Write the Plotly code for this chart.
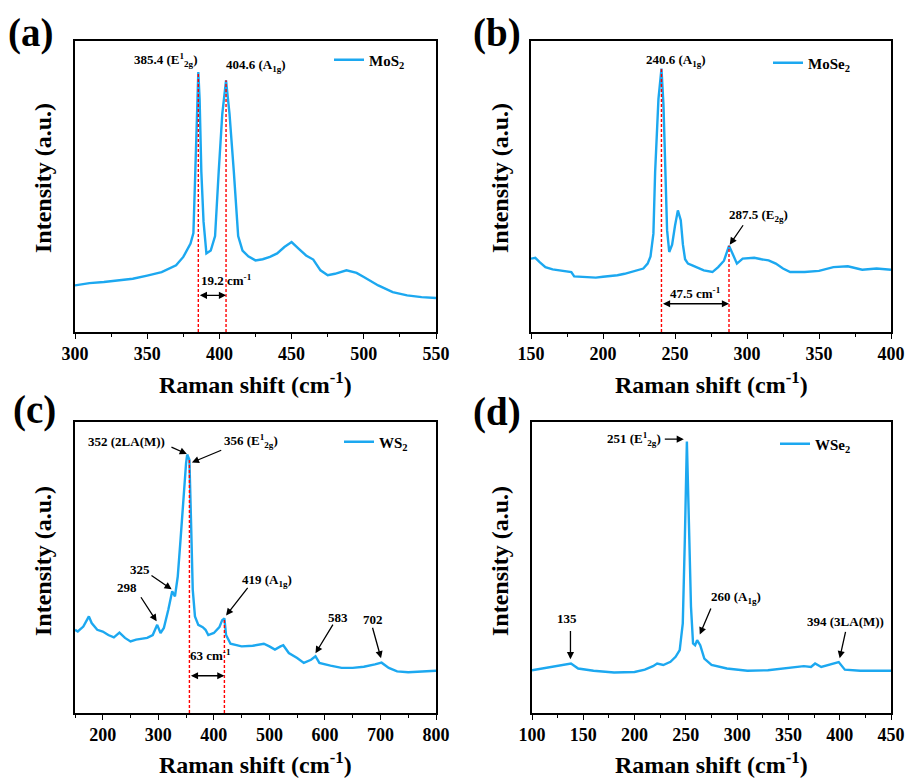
import numpy as np
import plotly.graph_objects as go

# ---------------- data (arbitrary intensity units 0-100) -------------
a_x = [300, 310, 320, 330, 340, 350, 360, 370, 375, 380, 382, 383.3, 384.5, 385.4, 386.3, 387.5, 389, 391,
       394, 397, 399.5, 402, 404.6, 407, 410, 413, 416, 420, 425, 430, 435, 440, 445, 450, 455, 460, 465,
       470, 475, 480, 488, 495, 500, 510, 520, 530, 540, 550]
a_y = [16.0, 16.8, 17.2, 17.8, 18.3, 19.4, 20.6, 22.9, 25.8, 30.4, 34.0, 55.0, 80.0, 89.3, 80.0, 55.0, 38.0, 27.0,
       28.0, 33.0, 55.0, 75.0, 86.5, 75.0, 55.0, 33.0, 28.0, 26.0, 24.6, 25.0, 25.8, 27.0, 29.2, 30.9, 28.6, 26.3, 24.9,
       21.2, 19.5, 20.0, 21.2, 20.3, 18.9, 16.0, 13.7, 12.6, 12.0, 11.7]

b_x = [150, 153, 156, 160, 165, 170, 175, 178, 180, 185, 190, 195, 200, 205, 210, 215, 220, 225, 228, 231,
       233, 235, 236.2, 238.5, 240.6, 242, 243.3, 244.5, 246, 248, 250, 252, 254, 255.5, 257, 259, 262, 265,
       270, 276, 280, 284, 287.5, 290, 293, 297, 305, 310, 315, 320, 325, 330, 340, 350, 360, 370, 380, 390, 400]
b_y = [25.2, 25.5, 24.0, 22.3, 21.5, 21.2, 21.0, 20.6, 19.1, 19.0, 18.8, 18.7, 19.0, 19.2, 19.5, 20.0, 20.6, 21.2,
       21.8, 23.5, 26.0, 33.8, 55.0, 80.0, 90.5, 78.0, 55.0, 35.0, 27.5, 30.0, 36.5, 41.8, 38.4, 30.0, 25.0, 23.5,
       22.9, 22.3, 21.2, 20.6, 22.3, 24.5, 29.6, 26.9, 23.5, 25.2, 25.5, 25.0, 24.6, 23.5, 21.8, 20.6, 20.6, 21.0,
       22.3, 22.6, 21.4, 21.8, 21.4]

c_x = [150, 155, 165, 175, 180, 190, 200, 210, 220, 230, 240, 250, 260, 270, 280, 290, 298, 304, 310, 318,
       325, 330, 335, 340, 345, 350, 352, 356, 359, 362, 366, 372, 380, 385, 390, 400, 410, 415, 419, 422,
       430, 450, 470, 490, 500, 510, 520, 525, 535, 550, 562, 575, 583, 590, 610, 630, 650, 670, 690, 702,
       715, 730, 750, 770, 790, 800]
c_y = [28.6, 28.0, 29.7, 33.2, 30.9, 28.6, 28.0, 26.8, 26.0, 27.6, 25.8, 24.6, 25.2, 25.4, 25.8, 26.8, 30.3, 27.5,
       29.2, 35.5, 41.8, 40.1, 46.9, 59.5, 74.5, 85.9, 88.8, 87.0, 65.3, 42.4, 33.2, 30.3, 29.5, 28.6, 26.8, 27.5,
       29.5, 31.9, 32.5, 26.8, 23.8, 22.9, 23.1, 23.8, 22.9, 21.8, 22.9, 23.3, 20.6, 18.9, 17.2, 18.3, 19.5, 17.2,
       16.3, 15.5, 15.5, 15.9, 16.7, 17.3, 15.5, 14.3, 14.0, 14.3, 14.5, 14.5]

d_x = [100, 110, 120, 130, 138, 145, 160, 180, 200, 210, 218, 222, 228, 235, 240, 244, 247, 249, 251, 253,
       255, 257, 259, 261, 264, 268, 275, 290, 310, 330, 350, 365, 372, 376, 382, 390, 399, 405, 420, 450]
d_y = [14.7, 15.3, 16.1, 16.5, 17.0, 15.3, 14.5, 13.9, 14.1, 14.9, 16.1, 17.0, 16.5, 17.6, 19.3, 21.6, 30.8, 59.5,
       93.3, 65.2, 36.5, 23.9, 23.3, 25.0, 23.3, 18.7, 16.5, 15.3, 14.5, 14.7, 15.5, 16.1, 15.8, 17.0, 15.8, 16.7,
       17.5, 14.9, 14.5, 14.5]

# peak positions marked with red dashed lines
a_marks = [385.4, 404.6]
b_marks = [240.6, 287.5]
c_marks = [356, 419]

# separation labels
a_sep = "19.2 cm<sup>-1</sup>"
b_sep = "47.5 cm<sup>-1</sup>"
c_sep = "63 cm<sup>-1</sup>"

names = ["<b>MoS<sub>2</sub></b>", "<b>MoSe<sub>2</sub></b>", "<b>WS<sub>2</sub></b>", "<b>WSe<sub>2</sub></b>"]
panel_tags = ["(a)", "(b)", "(c)", "(d)"]
x_title = "Raman shift (cm<sup>-1</sup>)"
y_title = "Intensity (a.u.)"

# ---------------- styling ----------------
W, H = 905, 781
BLUE = "#1CA8F0"
FONT = "Liberation Serif"


def px_x(v):
    return v / W


def px_y(v):
    return 1 - v / H


panels = [
    dict(x=a_x, y=a_y, xr=[300, 550], dt=50, mdt=25, box=(75, 436, 41, 332), leg=(329, 60), tag=(30, 33),
         xt=(255, 383), yt=(43, 178)),
    dict(x=b_x, y=b_y, xr=[150, 400], dt=50, mdt=25, box=(531, 891, 41, 332), leg=(768, 63), tag=(497, 33),
         xt=(711, 383), yt=(500, 178)),
    dict(x=c_x, y=c_y, xr=[150, 800], dt=100, mdt=50, box=(75, 436, 422, 713), leg=(339, 442), tag=(34, 410),
         xt=(255, 763), yt=(43, 561)),
    dict(x=d_x, y=d_y, xr=[100, 450], dt=50, mdt=25, box=(532, 891, 422, 713), leg=(775, 444), tag=(497, 412),
         xt=(711, 763), yt=(500, 561)),
]

fig = go.Figure()
layout = dict(
    width=W, height=H,
    margin=dict(l=0, r=0, t=0, b=0),
    paper_bgcolor="white", plot_bgcolor="white",
    showlegend=True,
    font=dict(family=FONT, color="black"),
)
annotations = []
shapes = []
TITLE_FONT = dict(family=FONT, size=24, color="black")

for i, p in enumerate(panels):
    n = "" if i == 0 else str(i + 1)
    xa, ya = "x" + n, "y" + n
    legname = "legend" + n
    fig.add_trace(go.Scatter(
        x=p["x"], y=p["y"], mode="lines", name=names[i],
        line=dict(color=BLUE, width=2.4),
        xaxis=xa, yaxis=ya, legend=legname,
    ))
    l, r, t, b = p["box"]
    layout["xaxis" + n] = dict(
        domain=[px_x(l), px_x(r)], anchor=ya, range=p["xr"],
        showline=True, linecolor="black", linewidth=1.6, mirror=True,
        ticks="outside", ticklen=5, tickwidth=1.4, tickcolor="black",
        tick0=0, dtick=p["dt"], ticklabeloverflow="allow",
        minor=dict(ticks="outside", ticklen=3, tickwidth=1.2, tickcolor="black", dtick=p["mdt"], tick0=0),
        showgrid=False, zeroline=False,
        tickfont=dict(family=FONT, size=18, color="black", weight="bold"),
        automargin=False,
    )
    layout["yaxis" + n] = dict(
        domain=[px_y(b), px_y(t)], anchor=xa, range=[0, 100],
        showline=True, linecolor="black", linewidth=1.6, mirror=True,
        ticks="", showticklabels=False, showgrid=False, zeroline=False,
        automargin=False,
    )
    lx, ly = p["leg"]
    layout[legname] = dict(
        x=px_x(lx), y=px_y(ly), xanchor="left", yanchor="middle",
        bgcolor="rgba(0,0,0,0)", borderwidth=0, itemwidth=30,
        font=dict(family=FONT, size=15, color="black"),
    )
    tx, ty = p["tag"]
    annotations.append(dict(
        x=px_x(tx), y=px_y(ty), xref="paper", yref="paper", text="<b>" + panel_tags[i] + "</b>",
        showarrow=False, xanchor="center", yanchor="middle",
        font=dict(family=FONT, size=39, color="black"),
    ))
    # axis titles
    xtx, xty = p["xt"]
    annotations.append(dict(
        x=px_x(xtx), y=px_y(xty), xref="paper", yref="paper", text="<b>" + x_title + "</b>",
        showarrow=False, xanchor="center", yanchor="middle", font=TITLE_FONT,
    ))
    ytx, yty = p["yt"]
    annotations.append(dict(
        x=px_x(ytx), y=px_y(yty), xref="paper", yref="paper", text="<b>" + y_title + "</b>",
        showarrow=False, xanchor="center", yanchor="middle", textangle=-90, font=TITLE_FONT,
    ))

LABEL_FONT = dict(family=FONT, size=13, color="black")


def text_ann(xa, ya, x, y, text):
    annotations.append(dict(x=x, y=y, xref=xa, yref=ya, text="<b>" + text + "</b>", showarrow=False,
                            xanchor="center", yanchor="middle", font=LABEL_FONT))


def arrow_ann(xa, ya, x0, y0, x1, y1, both=False):
    annotations.append(dict(x=x1, y=y1, ax=x0, ay=y0, xref=xa, yref=ya, axref=xa, ayref=ya,
                            text="", showarrow=True, arrowhead=2, arrowsize=1.1, arrowwidth=1.3,
                            arrowcolor="black", arrowside="end+start" if both else "end",
                            startarrowhead=2, startarrowsize=1.1, standoff=0, startstandoff=0))


def dashed_marks(xa, ya, xs, ys, marks):
    for m in marks:
        h = float(np.interp(m, xs, ys))
        shapes.append(dict(type="line", xref=xa, yref=ya, x0=m, x1=m, y0=0, y1=h,
                           line=dict(color="#FF0000", width=1.4, dash="3px,2px")))


# ---- panel (a)
dashed_marks("x", "y", a_x, a_y, a_marks)
arrow_ann("x", "y", a_marks[0], 12.6, a_marks[1], 12.6, both=True)
text_ann("x", "y", 405, 17.8, a_sep)
text_ann("x", "y", 363, 93.4, "385.4 (E<sup>1</sup><sub>2g</sub>)")
text_ann("x", "y", 425, 91.6, "404.6 (A<sub>1g</sub>)")

# ---- panel (b)
dashed_marks("x2", "y2", b_x, b_y, b_marks)
arrow_ann("x2", "y2", b_marks[0], 9.7, b_marks[1], 9.7, both=True)
text_ann("x2", "y2", 264, 13.4, b_sep)
text_ann("x2", "y2", 251, 93.4, "240.6 (A<sub>1g</sub>)")
text_ann("x2", "y2", 308, 40.1, "287.5 (E<sub>2g</sub>)")
arrow_ann("x2", "y2", 298, 37.2, 288, 30.0)

# ---- panel (c)
dashed_marks("x3", "y3", c_x, c_y, c_marks)
arrow_ann("x3", "y3", c_marks[0], 12.8, c_marks[1], 12.8, both=True)
text_ann("x3", "y3", 394, 19.8, c_sep)
text_ann("x3", "y3", 243, 93.4, "352 (2LA(M))")
arrow_ann("x3", "y3", 321, 91.6, 351.4, 89.0)
text_ann("x3", "y3", 466, 93.4, "356 (E<sup>1</sup><sub>2g</sub>)")
arrow_ann("x3", "y3", 416, 90.5, 360.5, 86.1)
text_ann("x3", "y3", 267, 49.3, "325")
arrow_ann("x3", "y3", 285, 47.6, 324, 42.5)
text_ann("x3", "y3", 244, 43.3, "298")
arrow_ann("x3", "y3", 267, 40.3, 297, 31.5)
text_ann("x3", "y3", 496, 45.5, "419 (A<sub>1g</sub>)")
arrow_ann("x3", "y3", 463, 43.5, 422, 33.5)
text_ann("x3", "y3", 623, 32.9, "583")
arrow_ann("x3", "y3", 616, 30.9, 583, 20.5)
text_ann("x3", "y3", 686, 32.3, "702")
arrow_ann("x3", "y3", 685, 29.8, 701, 18.8)

# ---- panel (d)
text_ann("x4", "y4", 199.5, 94.1, "251 (E<sup>1</sup><sub>2g</sub>)")
arrow_ann("x4", "y4", 228, 94.1, 248, 94.1)
text_ann("x4", "y4", 299, 39.6, "260 (A<sub>1g</sub>)")
arrow_ann("x4", "y4", 275, 36.4, 263.6, 27.0)
text_ann("x4", "y4", 134.3, 32.6, "135")
arrow_ann("x4", "y4", 137.5, 28.7, 137.5, 18.5)
text_ann("x4", "y4", 406, 31.3, "394 (3LA(M))")
arrow_ann("x4", "y4", 406, 28.4, 400, 18.8)

layout["annotations"] = annotations
layout["shapes"] = shapes
fig.update_layout(**layout)
fig.write_html(
    "out.html",
    config={"displayModeBar": False},
    post_script="document.body.style.margin='0';document.body.style.overflow='hidden';",
)
